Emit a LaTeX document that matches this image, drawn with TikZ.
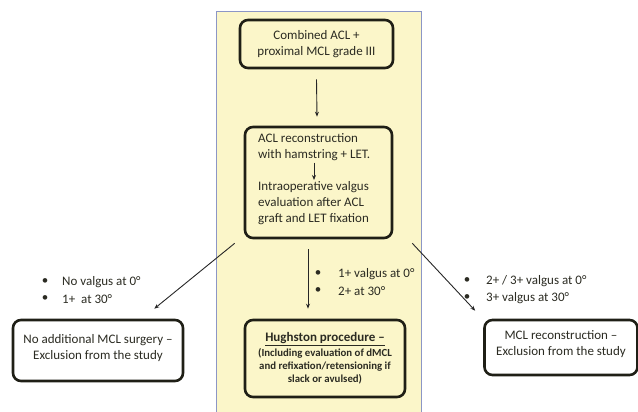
\documentclass[tikz,border=0pt]{standalone}
\usepackage{fontspec}
\setmainfont{Carlito}
\usetikzlibrary{arrows.meta}
\definecolor{panelfill}{HTML}{FBF6C9}
\definecolor{panelline}{HTML}{8C96C6}
\definecolor{boxline}{HTML}{1F1F16}
\definecolor{txt}{HTML}{2B2B22}
\def\boxfont{\fontsize{13}{16}\selectfont}
\def\bulletsep{17}

\begin{document}
\begin{tikzpicture}[
    x=1pt, y=-1pt,
    arrowtip/.style={
      -{Stealth[length=5pt,width=4pt]}, line width=0.9pt, draw=black!85
    },
    flowbox/.style={
      draw=boxline, line width=2.6pt, rounded corners=8pt,
      align=center, text=txt, font=\boxfont, inner sep=0pt
    },
    plain/.style={text=txt, font=\boxfont, inner sep=0pt}
  ]
    \useasboundingbox (0,0) rectangle (638,412);

    % yellow panel
    \fill[panelfill] (216,12) rectangle (421,412);
    \draw[panelline, line width=1pt] (216,412) -- (216,12) -- (421,12) -- (421,412);

    % boxes in the panel
    \node[flowbox, fill=panelfill, minimum width=153pt, minimum height=48pt]
      (combined) at (316.5,44) {Combined ACL +\\proximal MCL grade III};

    \node[flowbox, fill=panelfill, minimum width=147pt, minimum height=111pt]
      (eval) at (318.5,182.5) {};
    \node[plain, anchor=north west, align=left] (recon) at (258,133)
      {ACL reconstruction\\with hamstring + LET.};
    \node[plain, anchor=north west, align=left] (intra) at (258,181)
      {Intraoperative valgus\\evaluation after ACL\\graft and LET fixation};
    \draw[arrowtip] ([xshift=56pt,yshift=-2pt]recon.south west) -- ([xshift=56pt,yshift=1pt]intra.north west);

    \node[flowbox, fill=panelfill, minimum width=160pt, minimum height=77pt]
      (hugh) at (325,358.5) {};
    \node[plain, font=\bfseries\fontsize{13}{15}\selectfont] (hughtitle) at (325,339)
      {\underline{Hughston procedure --}};
    \node[plain, font=\bfseries\fontsize{10.8}{13}\selectfont, align=center, anchor=north]
      (hughtext) at (325,348)
      {(Including evaluation of dMCL\\and refixation/retensioning if\\slack or avulsed)};

    % boxes outside
    \node[flowbox, fill=white, minimum width=170pt, minimum height=61pt]
      (noadd) at (98,350.5) {No additional MCL surgery --\\Exclusion from the study\\[-8pt]};
    \node[flowbox, fill=white, minimum width=153pt, minimum height=55pt]
      (mclrec) at (561,347.5) {MCL reconstruction --\\Exclusion from the study\\[-8pt]};

    % arrows
    \draw[arrowtip] ([yshift=-10pt]combined.south) -- ([xshift=-1.5pt,yshift=9pt]eval.north);
    \draw[arrowtip] ([xshift=-9pt,yshift=-4pt]eval.south west) -- ([xshift=-30pt,yshift=10pt]noadd.north east);
    \draw[arrowtip] ([xshift=-10.5pt,yshift=-10pt]eval.south) -- ([xshift=-17pt,yshift=10pt]hugh.north);
    \draw[arrowtip] ([xshift=19pt,yshift=-4pt]eval.south east) -- ([xshift=-8pt,yshift=8pt]mclrec.north west);

    % bullet lists
    \foreach \bx / \tx / \ty / \name / \first / \second in {
      45/62/282/left/{No valgus at 0\textdegree}/{1+\ \ at 30\textdegree},
      318/338/274/mid/{1+ valgus at 0\textdegree}/{2+ at 30\textdegree},
      467/486/281/right/{2+ / 3+ valgus at 0\textdegree}/{3+ valgus at 30\textdegree}
    } {
      \node[plain] (\name dotA) at (\bx,\ty) {\textbullet};
      \node[plain, anchor=west] (\name A) at (\tx,\ty) {\first};
      \node[plain] (\name dotB) at (\bx,\ty+\bulletsep) {\textbullet};
      \node[plain, anchor=west] (\name B) at (\tx,\ty+\bulletsep) {\second};
    }
  \end{tikzpicture}
\end{document}
